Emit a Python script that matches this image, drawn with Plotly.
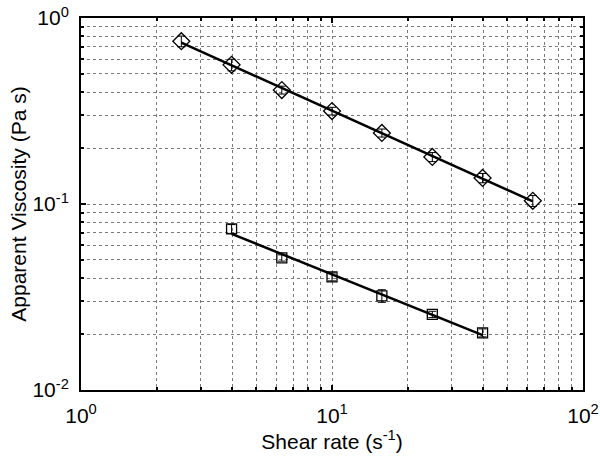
import numpy as np
import plotly.graph_objects as go

# Data
shear_a = [2.51, 3.98, 6.31, 10.0, 15.8, 25.1, 39.8, 63.1]
visc_a = [0.75, 0.56, 0.41, 0.316, 0.241, 0.179, 0.138, 0.104]
err_a = [0.05, 0.04, 0.02, 0.015, 0.012, 0.01, 0.008, 0.007]

shear_b = [3.98, 6.31, 10.0, 15.8, 25.1, 39.8]
visc_b = [0.0735, 0.0513, 0.0406, 0.0321, 0.0255, 0.0203]
err_b = [0.004, 0.002, 0.002, 0.0025, 0.001, 0.001]

x_tickvals = [1, 10, 100]
x_ticktext = ["10<sup>0</sup>", "10<sup>1</sup>", "10<sup>2</sup>"]
x_minor = [2, 3, 4, 5, 6, 7, 8, 9, 20, 30, 40, 50, 60, 70, 80, 90]
y_tickvals = [0.01, 0.1, 1]
y_ticktext = ["10<sup>-2</sup>", "10<sup>-1</sup>", "10<sup>0</sup>"]
y_minor = [0.02, 0.03, 0.04, 0.05, 0.06, 0.07, 0.08, 0.09,
           0.2, 0.3, 0.4, 0.5, 0.6, 0.7, 0.8, 0.9]


def powerfit(x, y):
    lx, ly = np.log10(x), np.log10(y)
    m, c = np.polyfit(lx, ly, 1)
    xs = np.array([min(x), max(x)])
    return xs, 10 ** (c + m * np.log10(xs))


fig = go.Figure()
for xs, ys, errs, sym, sz in [(shear_a, visc_a, err_a, "diamond-open", 13),
                              (shear_b, visc_b, err_b, "square-open", 10)]:
    fx, fy = powerfit(xs, ys)
    fig.add_trace(go.Scatter(x=fx, y=fy, mode="lines",
                             line=dict(color="black", width=2.5),
                             showlegend=False, hoverinfo="skip"))
    fig.add_trace(go.Scatter(x=xs, y=ys, mode="markers",
                             marker=dict(symbol=sym, size=sz, color="black",
                                         line=dict(width=1.3, color="black")),
                             error_y=dict(type="data", array=errs, color="black",
                                          thickness=1, width=4),
                             showlegend=False))

FONT = "Liberation Sans, Arial"
GRID = "#7a7a7a"
axis_common = dict(
    type="log", showline=True, linecolor="black", linewidth=2, mirror="ticks",
    ticks="inside", ticklen=5, tickcolor="black", tickwidth=1.5,
    showgrid=True, gridcolor=GRID, griddash="dot", gridwidth=1,
    zeroline=False, automargin=False,
    tickfont=dict(family=FONT, size=21, color="black"),
)

fig.update_xaxes(range=[0, 2], tickvals=x_tickvals, ticktext=x_ticktext,
                 ticklabelstandoff=6,
                 minor=dict(tickvals=x_minor, ticks="inside", ticklen=3, tickcolor="black",
                            showgrid=True, gridcolor=GRID, griddash="dot", gridwidth=1),
                 title=dict(text="Shear rate (s<sup>-1</sup>)",
                            font=dict(family=FONT, size=21, color="black"),
                            standoff=6),
                 **axis_common)
fig.update_yaxes(range=[-2, 0], tickvals=y_tickvals, ticktext=y_ticktext,
                 ticklabelstandoff=6,
                 minor=dict(tickvals=y_minor, ticks="inside", ticklen=3, tickcolor="black",
                            showgrid=True, gridcolor=GRID, griddash="dot", gridwidth=1),
                 title=dict(text="Apparent Viscosity (Pa s)",
                            font=dict(family=FONT, size=21, color="black"),
                            standoff=0),
                 **axis_common)

fig.update_layout(
    width=600, height=470,
    margin=dict(l=81, r=17, t=18, b=80),
    paper_bgcolor="white", plot_bgcolor="white",
    font=dict(family=FONT, color="black"),
)

fig.write_html("out.html", config={"displayModeBar": False},
               post_script="document.body.style.margin='0';"
                           "document.body.style.overflow='hidden';")
